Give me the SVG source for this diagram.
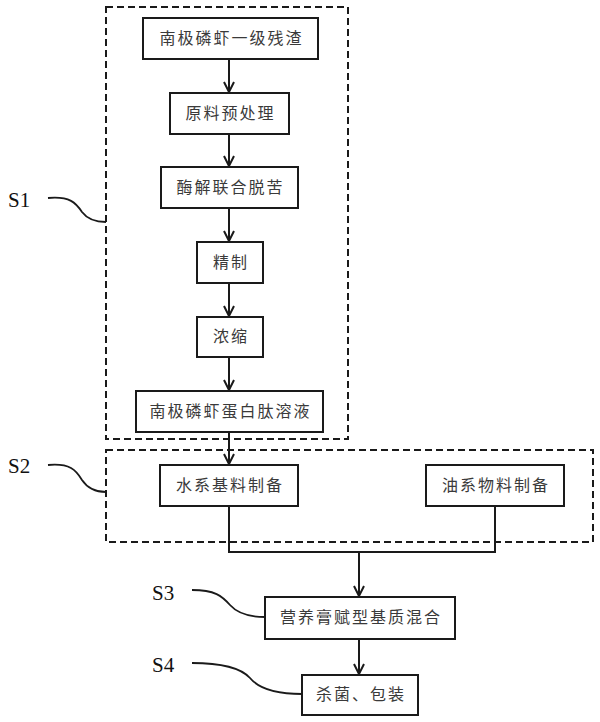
<svg xmlns="http://www.w3.org/2000/svg" width="600" height="722" viewBox="0 0 600 722">
<style>
.box{fill:#fff;stroke:#1a1a1a;stroke-width:2}
.grp{fill:none;stroke:#1a1a1a;stroke-width:2;stroke-dasharray:7 4}
.t{font-family:"Noto Sans CJK SC","Noto Sans",sans-serif;font-size:16px;fill:#3a3a3a;text-anchor:middle;letter-spacing:2px}
.lbl{font-family:"Liberation Serif",serif;font-size:21px;fill:#111}
.ln{fill:none;stroke:#1a1a1a;stroke-width:2}
.cv{fill:none;stroke:#1a1a1a;stroke-width:1.8}
</style>
<defs>
<marker id="arr" viewBox="0 0 12 12" refX="11" refY="6" markerWidth="12" markerHeight="12" markerUnits="userSpaceOnUse" orient="auto">
<path d="M1,1 L11,6 L1,11" fill="none" stroke="#1a1a1a" stroke-width="2"/>
</marker>
</defs>
<rect width="600" height="722" fill="#fff"/>
<g id="groups">
<rect class="grp" x="106" y="7" width="242" height="432"/>
<rect class="grp" x="106" y="450" width="487" height="92"/>
</g>
<g id="connectors">
<line class="ln" x1="229" y1="59" x2="229" y2="92" marker-end="url(#arr)"/>
<line class="ln" x1="229" y1="134" x2="229" y2="166" marker-end="url(#arr)"/>
<line class="ln" x1="229" y1="208" x2="229" y2="241" marker-end="url(#arr)"/>
<line class="ln" x1="229" y1="283" x2="229" y2="316" marker-end="url(#arr)"/>
<line class="ln" x1="229" y1="357" x2="229" y2="390" marker-end="url(#arr)"/>
<line class="ln" x1="229" y1="432" x2="229" y2="464" marker-end="url(#arr)"/>
<polyline class="ln" points="229,506 229,552 495,552 495,506"/>
<line class="ln" x1="359" y1="552" x2="359" y2="596" marker-end="url(#arr)"/>
<line class="ln" x1="359" y1="639" x2="359" y2="674" marker-end="url(#arr)"/>
<path class="cv" d="M48,198 C70,196 76,203 82,212 C88,220 96,222 106,222"/>
<path class="cv" d="M48,465 C70,463 76,470 82,480 C88,489 96,492 106,492"/>
<path class="cv" d="M192,590 C215,590 222,596 230,605 C238,614 250,617 265,617"/>
<path class="cv" d="M192,663 C220,663 240,667 250,678 C260,690 280,694 302,694"/>
</g>
<g id="n1"><rect class="box" x="143" y="18" width="175" height="41"/><text class="t" x="231.5" y="44">南极磷虾一级残渣</text></g>
<g id="n2"><rect class="box" x="170" y="93" width="119" height="41"/><text class="t" x="230.5" y="119">原料预处理</text></g>
<g id="n3"><rect class="box" x="161" y="167" width="137" height="41"/><text class="t" x="230.5" y="193">酶解联合脱苦</text></g>
<g id="n4"><rect class="box" x="197" y="242" width="66" height="41"/><text class="t" x="231" y="268">精制</text></g>
<g id="n5"><rect class="box" x="197" y="317" width="66" height="40"/><text class="t" x="231" y="342">浓缩</text></g>
<g id="n6"><rect class="box" x="136" y="391" width="187" height="41"/><text class="t" x="230.5" y="417">南极磷虾蛋白肽溶液</text></g>
<g id="n7"><rect class="box" x="160" y="465" width="138" height="41"/><text class="t" x="230" y="491">水系基料制备</text></g>
<g id="n8"><rect class="box" x="426" y="465" width="138" height="41"/><text class="t" x="496" y="491">油系物料制备</text></g>
<g id="n9"><rect class="box" x="265" y="597" width="190" height="42"/><text class="t" x="361" y="623">营养膏赋型基质混合</text></g>
<g id="n10"><rect class="box" x="302" y="675" width="116" height="40"/><text class="t" x="361" y="700">杀菌、包装</text></g>
<g id="labels">
<text class="lbl" x="8" y="207">S1</text>
<text class="lbl" x="8" y="473">S2</text>
<text class="lbl" x="152" y="600">S3</text>
<text class="lbl" x="152" y="672">S4</text>
</g>
</svg>
